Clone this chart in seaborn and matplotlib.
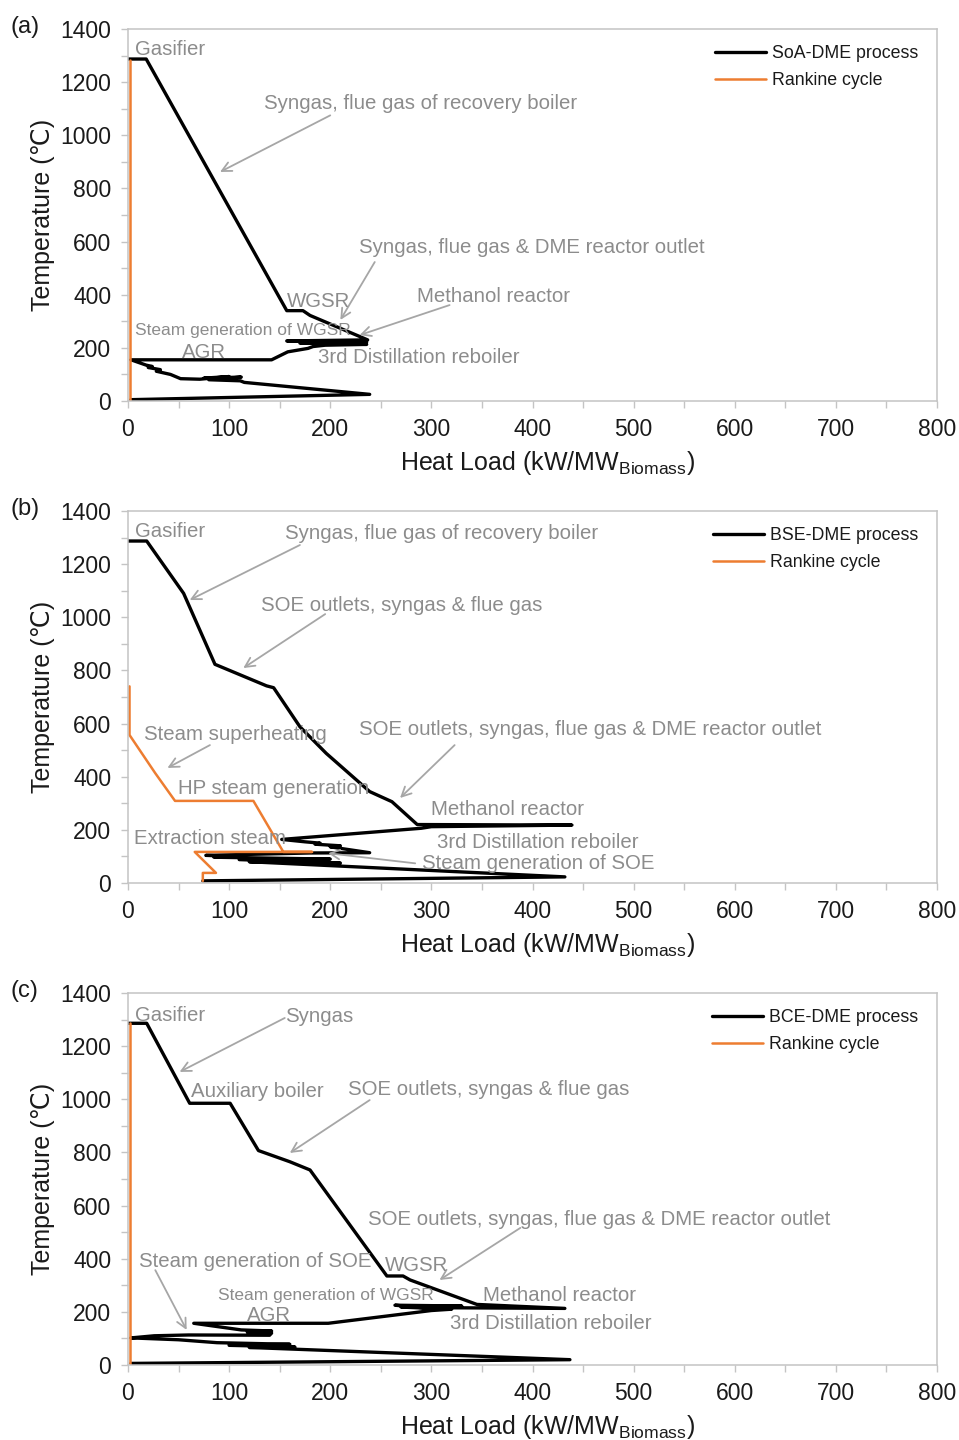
import numpy as np
import pandas as pd
import seaborn as sns
import matplotlib.pyplot as plt
from matplotlib.ticker import MultipleLocator

sns.set_style("white")
plt.rcParams['font.family'] = ['Liberation Sans', 'DejaVu Sans']
plt.rcParams['mathtext.fontset'] = 'custom'
plt.rcParams['mathtext.rm'] = 'Liberation Sans'

# ---- data ----
# (a) SoA-DME
a_proc_x = [0, 18, 157, 173, 180, 237, 157, 236, 170, 236, 195, 183, 178, 158, 142, 3,
            18, 24, 20, 32, 28, 42, 52, 71, 100, 75, 112, 80, 111, 115, 239, 3]
a_proc_y = [1287, 1287, 340, 340, 322, 230, 226, 222, 218, 213, 210, 205, 198, 185, 155, 155,
            135, 130, 126, 118, 112, 100, 84, 82, 92, 86, 90, 80, 76, 70, 25, 5]
a_rank_x = [1.5, 1.5]
a_rank_y = [0, 1285]

# (b) BSE-DME
b_proc_x = [0, 18.5, 55, 86, 137, 144, 170, 196, 239, 261, 286, 439, 300, 290, 152,
            175, 190, 185, 210, 200, 239, 180, 77, 105, 85, 200, 110, 210, 120, 432, 74]
b_proc_y = [1287, 1287, 1090, 823, 742, 735, 588, 488, 344, 306, 220, 218, 212, 206, 164,
            155, 150, 146, 140, 136, 114, 113, 104, 100, 97, 90, 88, 75, 80, 23, 8]
b_rank_x = [1.5, 1.5, 27, 46.5, 124, 153.6, 182, 66, 87, 74, 74]
b_rank_y = [740, 557, 413, 309, 309, 117, 117, 117, 38, 38, 8]

# (c) BCE-DME
c_proc_x = [0, 18.5, 61, 101, 129, 160, 180, 256, 272, 279, 345, 432, 290, 264, 330, 270,
            320, 300, 198, 65, 112, 142, 118, 142, 140, 60, 26, 3, 50, 88, 160, 100, 165,
            120, 437, 3]
c_proc_y = [1286, 1286, 985, 985, 807, 765, 734, 335, 335, 320, 228, 213, 216, 225, 222, 218,
            210, 205, 157, 157, 132, 128, 124, 120, 112, 113, 110, 102, 95, 84, 78, 74, 68,
            66, 20, 6]
c_rank_x = [1.5, 1.5]
c_rank_y = [0, 1286]

proc_names = ["SoA-DME process", "BSE-DME process", "BCE-DME process"]
panel_tags = ["(a)", "(b)", "(c)"]

# annotations: text, text x, text y, fontsize, arrow tail, arrow head
notes_a = [
    ("Gasifier", 7, 1321, 14.7, None, None),
    ("Syngas, flue gas of recovery boiler", 134, 1118, 14.7, (200, 1075), (91, 862)),
    ("Syngas, flue gas & DME reactor outlet", 228, 576, 14.7, (244, 523), (210, 305)),
    ("WGSR", 157, 376, 14.7, None, None),
    ("Methanol reactor", 286, 395, 14.7, (318, 361), (229, 248)),
    ("Steam generation of WGSR", 7, 267, 12.5, None, None),
    ("AGR", 53, 184, 14.7, None, None),
    ("3rd Distillation reboiler", 188, 162, 14.7, None, None),
]
notes_b = [
    ("Gasifier", 7, 1321, 14.7, None, None),
    ("Syngas, flue gas of recovery boiler", 155, 1317, 14.7, (170, 1272), (61, 1065)),
    ("SOE outlets, syngas & flue gas", 132, 1046, 14.7, (195, 1012), (114, 809)),
    ("Steam superheating", 16, 557, 14.7, (81, 519), (39, 433)),
    ("SOE outlets, syngas, flue gas & DME reactor outlet", 228, 576, 14.7, (323, 519), (269, 320)),
    ("HP steam generation", 49, 354, 14.7, None, None),
    ("Methanol reactor", 300, 275, 14.7, None, None),
    ("Extraction steam", 6, 169, 14.7, None, None),
    ("3rd Distillation reboiler", 306, 154, 14.7, None, None),
    ("Steam generation of SOE", 291, 72, 14.7, (284, 74), (198, 112)),
]
notes_c = [
    ("Gasifier", 7, 1317, 14.7, None, None),
    ("Syngas", 155, 1310, 14.7, (155, 1306), (51, 1103)),
    ("Auxiliary boiler", 62, 1031, 14.7, None, None),
    ("SOE outlets, syngas & flue gas", 218, 1035, 14.7, (239, 997), (160, 798)),
    ("SOE outlets, syngas, flue gas & DME reactor outlet", 237, 549, 14.7, (388, 516), (308, 320)),
    ("Steam generation of SOE", 11, 388, 14.7, (27, 357), (58, 132)),
    ("WGSR", 254, 376, 14.7, None, None),
    ("Steam generation of WGSR", 89, 263, 12.5, None, None),
    ("Methanol reactor", 351, 263, 14.7, None, None),
    ("AGR", 118, 188, 14.7, None, None),
    ("3rd Distillation reboiler", 318, 158, 14.7, None, None),
]

panels = [
    (a_proc_x, a_proc_y, a_rank_x, a_rank_y, notes_a),
    (b_proc_x, b_proc_y, b_rank_x, b_rank_y, notes_b),
    (c_proc_x, c_proc_y, c_rank_x, c_rank_y, notes_c),
]

W, H = 959, 1440
fig = plt.figure(figsize=(W / 100, H / 100), dpi=100)

tops = [29, 511, 993]
left_px, right_px, h_px = 128, 937, 372
txt_grey = "#8c8c8c"
arrow_grey = "#a6a6a6"
frame_grey = "#c4c4c4"
orange = "#ED7D31"

for i, (px, py, rx, ry, notes) in enumerate(panels):
    top = tops[i]
    ax = fig.add_axes([left_px / W, 1 - (top + h_px) / H, (right_px - left_px) / W, h_px / H])

    sns.lineplot(x=px, y=py, sort=False, estimator=None, color="black", lw=2.4,
                 label=proc_names[i], ax=ax)
    sns.lineplot(x=rx, y=ry, sort=False, estimator=None, color=orange, lw=1.8,
                 label="Rankine cycle", ax=ax)

    ax.set_xlim(0, 800)
    ax.set_ylim(0, 1400)
    ax.xaxis.set_major_locator(MultipleLocator(100))
    ax.xaxis.set_minor_locator(MultipleLocator(50))
    ax.yaxis.set_major_locator(MultipleLocator(200))
    ax.yaxis.set_minor_locator(MultipleLocator(100))
    ax.tick_params(which="both", direction="out", length=5, width=1, color=frame_grey,
                   bottom=True, left=True)
    ax.tick_params(which="major", labelsize=16.5, labelcolor="#1a1a1a", pad=7)
    for s in ax.spines.values():
        s.set_color(frame_grey)
        s.set_linewidth(1.1)

    ax.set_xlabel(r"Heat Load (kW/MW$_{\mathrm{Biomass}}$)", fontsize=18, color="#1a1a1a", labelpad=6)
    ax.xaxis.label.set_x(0.518)
    ax.set_ylabel("Temperature (℃)", fontsize=18, color="#1a1a1a", labelpad=4)

    for (t, tx, ty, fs, tail, head) in notes:
        ax.text(tx, ty, t, fontsize=fs, color=txt_grey, ha="left", va="center")
        if tail is not None:
            ax.annotate("", xy=head, xytext=tail,
                        arrowprops=dict(arrowstyle="->", color=arrow_grey, lw=1.3,
                                        mutation_scale=17, shrinkA=0, shrinkB=0))

    leg = ax.legend(loc="upper right", bbox_to_anchor=(0.985, 0.975), frameon=False,
                    fontsize=12.8, handlelength=2.9, handletextpad=0.3,
                    labelspacing=0.55, borderaxespad=0)
    for t in leg.get_texts():
        t.set_color("#1a1a1a")

    fig.text(10 / W, 1 - (top - 2) / H, panel_tags[i], fontsize=17, color="#1a1a1a",
             ha="left", va="center")

fig.savefig("out.png", dpi=100)
